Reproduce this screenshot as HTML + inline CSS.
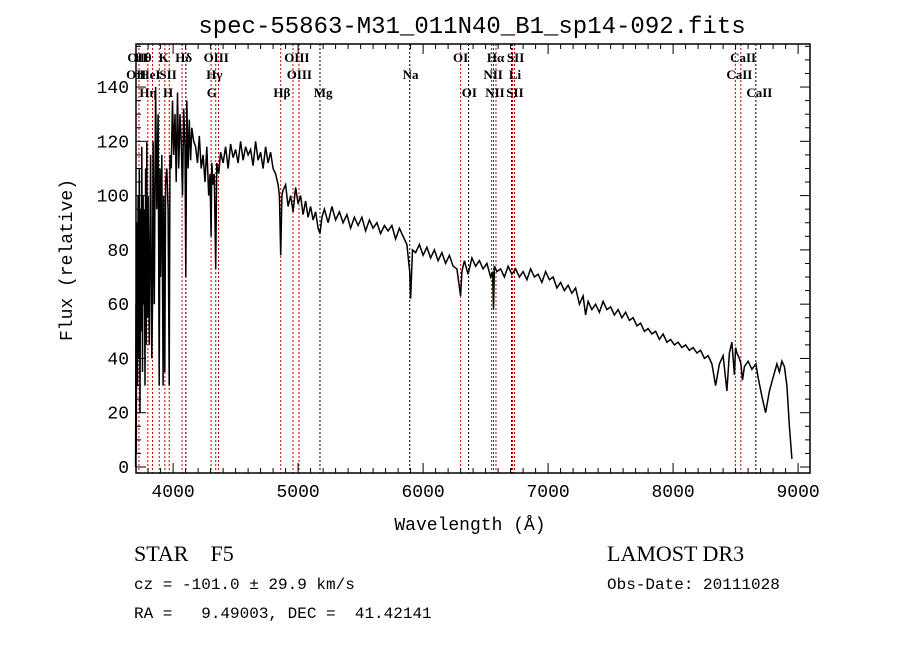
<!DOCTYPE html>
<html><head><meta charset="utf-8"><style>
html,body{margin:0;padding:0;background:#fff;}
svg{display:block;font-family:"Liberation Serif",serif;}
</style></head><body>
<svg id="c" width="900" height="649" xmlns="http://www.w3.org/2000/svg">
<rect width="900" height="649" fill="#fff"/>
<text x="472" y="33" font-size="24" text-anchor="middle" font-family="Liberation Mono">spec-55863-M31_011N40_B1_sp14-092.fits</text>
<text x="470" y="530" font-size="18" text-anchor="middle" font-family="Liberation Mono">Wavelength (Å)</text>
<text x="72" y="260" font-size="18" text-anchor="middle" font-family="Liberation Mono" transform="rotate(-90 72 260)">Flux (relative)</text>
<text x="134" y="561" font-size="22" font-family="Liberation Serif">STAR&#160;&#160;&#160;&#160;F5</text>
<text x="607" y="561" font-size="22" font-family="Liberation Serif">LAMOST DR3</text>
<text x="134" y="589" font-size="16" font-family="Liberation Mono">cz = -101.0 ± 29.9 km/s</text>
<text x="607" y="589" font-size="16" font-family="Liberation Mono">Obs-Date: 20111028</text>
<text x="134" y="618" font-size="16" font-family="Liberation Mono" xml:space="preserve">RA =   9.49003, DEC =  41.42141</text>
<g id="plot"></g>
</svg>
<script>
const wavelengths=[3700,3703,3706,3710,3715,3720,3725,3730,3735,3740,3745,3750,3755,3760,3765,3770,3775,3780,3785,3790,3795,3800,3810,3820,3830,3835,3840,3850,3860,3870,3880,3889,3895,3900,3910,3920,3925,3934,3940,3950,3960,3969,3975,3985,3995,4005,4015,4025,4035,4045,4055,4065,4075,4085,4095,4102,4110,4120,4130,4140,4150,4165,4180,4195,4210,4225,4240,4255,4270,4285,4295,4304,4310,4320,4330,4341,4350,4365,4380,4400,4420,4440,4460,4480,4500,4520,4540,4560,4580,4600,4620,4640,4660,4680,4700,4720,4740,4760,4780,4800,4820,4840,4850,4861,4870,4880,4900,4920,4940,4960,4980,5000,5020,5040,5060,5080,5100,5120,5140,5160,5175,5190,5210,5240,5270,5300,5330,5360,5390,5420,5450,5480,5510,5540,5570,5600,5630,5660,5690,5720,5750,5780,5810,5840,5870,5893,5900,5915,5940,5970,6000,6030,6060,6090,6120,6150,6180,6210,6240,6270,6300,6310,6330,6360,6390,6420,6450,6480,6510,6540,6556,6563,6570,6590,6620,6650,6680,6710,6740,6770,6800,6830,6860,6890,6920,6950,6980,7010,7040,7070,7100,7130,7160,7190,7220,7250,7280,7300,7320,7350,7380,7410,7440,7470,7500,7530,7560,7590,7620,7650,7680,7710,7740,7770,7800,7830,7860,7890,7920,7950,7980,8010,8040,8070,8100,8130,8160,8190,8220,8250,8280,8310,8340,8370,8400,8430,8450,8470,8490,8500,8510,8530,8542,8555,8570,8600,8630,8662,8680,8710,8740,8770,8800,8830,8850,8870,8890,8910,8930,8950,8970,8990,9005,9015,9020];
const fluxes=[0,60,5,90,30,100,40,110,20,95,50,118,35,100,60,95,30,110,45,120,55,100,45,115,40,60,120,60,140,95,130,30,110,70,115,30,100,35,105,110,95,30,115,110,135,115,130,105,138,110,130,120,100,132,118,70,135,110,128,113,125,120,118,112,122,110,115,105,118,100,108,85,112,104,108,73,112,108,116,112,118,110,119,114,117,112,120,113,118,115,117,111,120,113,116,110,118,112,116,110,108,104,100,78,100,102,104,96,100,94,103,97,100,93,98,92,96,91,94,88,86,92,95,90,96,91,94,90,93,88,92,89,92,87,91,88,90,86,89,87,89,84,88,85,82,72,62,80,79,82,78,81,77,80,76,79,75,78,74,73,63,72,76,71,77,74,76,73,75,70,72,58,74,72,73,70,74,71,73,70,72,69,73,70,71,68,72,69,70,66,68,65,67,64,66,60,63,56,61,58,60,57,61,58,59,56,58,55,57,54,55,52,53,50,51,49,50,47,49,46,47,45,46,44,45,43,44,42,43,40,41,38,30,38,41,28,42,46,34,44,42,40,38,32,37,39,36,38,33,26,20,28,33,38,35,39,37,30,15,3];
const tickValuesX=[4000,5000,6000,7000,8000,9000];
const tickValuesY=[0,20,40,60,80,100,120,140];
const lineWaves=[3727,3798,3835,3889,3934,3969,4072,4102,4304,4341,4363,4861,4959,5007,5175,5893,6300,6364,6548,6563,6583,6708,6716,6731,8498,8542,8662];
const lineColors=['r','r','r','r','r','r','r','k','r','r','r','r','r','r','k','k','r','k','r','r','r','k','r','r','r','r','k'];
const labelTexts=['OII','Hθ','K','Hδ','OIII','OII','HeI','SII','Hγ','OIII','OIII','Hη','H','G','Hβ','Mg','Na','OI','OI','Hα','SII','NII','Li','NII','SII','CaII','CaII','CaII'];
const labelWaves=[3715,3760,3925,4085,4345,3705,3815,3960,4330,5010,4990,3800,3960,4310,4870,5200,5900,6300,6370,6580,6740,6560,6735,6575,6735,8560,8530,8690];
const labelRows=[1,1,1,1,1,2,2,2,2,2,1,3,3,3,3,3,2,1,3,1,1,2,2,3,3,1,2,3];

const L=136,R=810,T=44,B=473;
const X=w=>135.6+(w-3700)*0.125;
const Y=v=>467-v*2.714;
const NS='http://www.w3.org/2000/svg';
const g=document.getElementById('plot');
function mk(tag,attrs){const e=document.createElementNS(NS,tag);for(const k in attrs)e.setAttribute(k,attrs[k]);g.appendChild(e);return e;}

lineWaves.forEach((w,i)=>{
  const e=mk('line',{x1:X(w),x2:X(w),y1:T,y2:B,stroke:lineColors[i]==='r'?'#c00000':'#000','stroke-width':1,'stroke-dasharray':'2,2'});
  
  
});
labelTexts.forEach((t,i)=>{
  const y=[0,62,79,97][labelRows[i]];
  const e=mk('text',{x:X(labelWaves[i]),y:y,'font-size':13,'font-weight':'bold','text-anchor':'middle','font-family':'Liberation Serif'});
  e.textContent=t;
  
  
});

let d='';
wavelengths.forEach((w,i)=>{d+=(i?'L':'M')+X(w).toFixed(1)+','+Y(fluxes[i]).toFixed(1);});
const p=mk('path',{d:d,fill:'none',stroke:'#000','stroke-width':1.5});



const f=mk('rect',{x:L,y:T,width:R-L,height:B-T,fill:'none',stroke:'#000','stroke-width':1.5});



for(let w=3800;w<=9000;w+=100){
  const major=w%1000===0,len=major?10:5;
  mk('line',{x1:X(w),x2:X(w),y1:B,y2:B-len,stroke:'#000'});
  mk('line',{x1:X(w),x2:X(w),y1:T,y2:T+len,stroke:'#000'});
}
tickValuesX.forEach(v=>{
  const e=mk('text',{x:X(v),y:B+24,'font-size':18,'text-anchor':'middle','font-family':'Liberation Mono'});
  e.textContent=v;
  
  
});
for(let v=0;v<=155;v+=5){
  const major=v%20===0,len=major?10:5;
  if(Y(v)<T)continue;
  mk('line',{x1:L,x2:L+len,y1:Y(v),y2:Y(v),stroke:'#000'});
  mk('line',{x1:R,x2:R-len,y1:Y(v),y2:Y(v),stroke:'#000'});
}
tickValuesY.forEach(v=>{
  const e=mk('text',{x:129,y:Y(v)+6,'font-size':18,'text-anchor':'end','font-family':'Liberation Mono'});
  e.textContent=v;
  
  
});
</script>
</body></html>
